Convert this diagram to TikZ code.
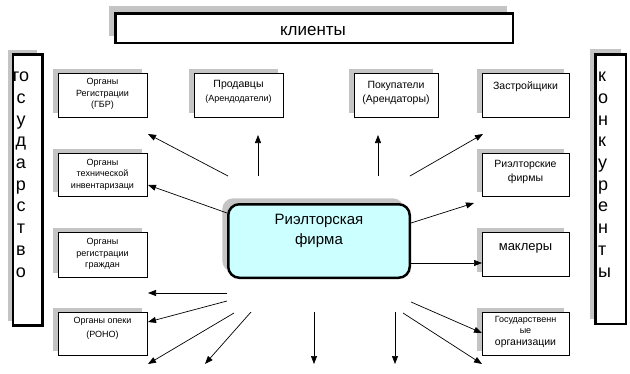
\documentclass[tikz,border=0pt]{standalone}
\usepackage{fontspec}
\setmainfont{Liberation Sans}
\usetikzlibrary{arrows.meta,shadows}
\definecolor{lcyan}{HTML}{CCFFFF}
\definecolor{shgray}{HTML}{C4C4C4}
\tikzset{
  smallbox/.style={draw, line width=0.9pt, fill=white, inner sep=0pt,
    drop shadow={shadow xshift=-5pt, shadow yshift=4pt, fill=shgray, opacity=1}},
  bigbox/.style={draw, line width=2.5pt, fill=white, inner sep=0pt,
    drop shadow={shadow xshift=-6pt, shadow yshift=7pt, fill=shgray, opacity=1}},
  sidebox/.style={draw, line width=2.5pt, fill=white, inner sep=0pt,
    drop shadow={shadow xshift=-5pt, shadow yshift=5pt, fill=shgray, opacity=1}},
  firmbox/.style={draw, line width=2.5pt, fill=lcyan, rounded corners=11pt, inner sep=0pt,
    drop shadow={shadow xshift=-6pt, shadow yshift=6pt, fill=shgray, opacity=1}},
  txt/.style={align=center, inner sep=0pt, font=\fontsize{9}{11.5}\selectfont},
  txtb/.style={align=center, inner sep=0pt, font=\fontsize{10.5}{14}\selectfont},
  vlet/.style={inner sep=0pt, font=\fontsize{18}{20}\selectfont},
  arr/.style={-{Triangle[length=8pt,width=6pt]}, line width=0.7pt}
}
\begin{document}
\begin{tikzpicture}[x=1pt,y=-1pt]
\useasboundingbox (0,0) rectangle (630,373);

% top box
\node[bigbox, minimum width=397.5pt, minimum height=29.5pt] (klienty) at (314,28) {};
\node[inner sep=0pt, font=\fontsize{17}{20}\selectfont] (klientyT) at (313,31.5) {клиенты};

% side columns
\node[sidebox, minimum width=29.5pt, minimum height=271pt] (gosud) at (27.5,190) {};
\node[sidebox, minimum width=30.5pt, minimum height=269.5pt] (konk) at (610.5,189) {};
\foreach \t [count=\i] in {го,с,у,д,а,р,с,т,в,о}
  \node[vlet, anchor=base] (gl\i) at (21,{81.7+21.7*(\i-1)}) {\t};
\foreach \t [count=\i] in {к,о,н,к,у,р,е,н,т,ы}
  \node[vlet, anchor=base west] (kl\i) at (598,{81.7+21.7*(\i-1)}) {\t};

% left boxes
\node[smallbox, minimum width=89pt, minimum height=44pt] (gbr) at (102.5,95) {};
\node[txt] (gbrT) at (102.5,94) {Органы\\Регистрации\\(ГБР)};
\node[smallbox, minimum width=89pt, minimum height=43pt] (tech) at (102.5,174.5) {};
\node[txt] (techT) at (102.5,174.5) {Органы\\технической\\инвентаризаци};
\node[smallbox, minimum width=89pt, minimum height=45pt] (grazh) at (102.5,254.5) {};
\node[txt] (grazhT) at (102.5,254) {Органы\\регистрации\\граждан};
\node[smallbox, minimum width=89pt, minimum height=43pt] (opeka) at (102.5,333.5) {};
\node[txt, font=\fontsize{9}{14}\selectfont] (opekaT) at (102.5,328.5) {Органы опеки\\(РОНО)};

% top boxes
\node[smallbox, minimum width=89pt, minimum height=44pt] (prod) at (238.5,95) {};
\node[txtb] (prodT) at (238.5,91.5) {Продавцы\\{\fontsize{9}{14}\selectfont(Арендодатели)}};
\node[smallbox, minimum width=84pt, minimum height=44pt] (pok) at (396,95) {};
\node[txtb] (pokT) at (396,92.5) {Покупатели\\(Арендаторы)};

% right boxes
\node[smallbox, minimum width=87pt, minimum height=44pt] (zastr) at (525.5,95) {};
\node[txtb] (zastrT) at (525.5,87) {Застройщики};
\node[smallbox, minimum width=87pt, minimum height=43pt] (rielt) at (525.5,174.5) {};
\node[txtb] (rieltT) at (525.5,171.5) {Риэлторские\\фирмы};
\node[smallbox, minimum width=87pt, minimum height=44pt] (makl) at (525.5,254) {};
\node[inner sep=0pt, font=\fontsize{13}{15}\selectfont] (maklT) at (525.5,248) {маклеры};
\node[smallbox, minimum width=87pt, minimum height=43pt] (gos) at (525.5,333.5) {};
\node[txt] (gosT) at (525.5,331.5) {Государственн\\ые\\{\fontsize{10.5}{11.5}\selectfont организации}};

% central firm
\node[firmbox, minimum width=181.5pt, minimum height=73.5pt] (firm) at (319,241) {};
\node[align=center, inner sep=0pt, font=\fontsize{15}{20}\selectfont] (firmT) at (319,230.5) {Риэлторская\\фирма};

% arrow end points
\coordinate (s1) at (228,176);  \coordinate (e1) at (148,134);
\coordinate (s2) at (258,176);  \coordinate (e2) at (258,135);
\coordinate (s3) at (227,213);  \coordinate (e3) at (148,185);
\coordinate (s4) at (378,176);  \coordinate (e4) at (378,135);
\coordinate (s5) at (410,176);  \coordinate (e5) at (483,134);
\coordinate (s6) at (411,223);  \coordinate (e6) at (474,203);
\coordinate (s7) at (411,263);  \coordinate (e7) at (482,263);
\coordinate (s8) at (227,293);  \coordinate (e8) at (148,293);
\coordinate (s9) at (227,301);  \coordinate (e9) at (148,322);
\coordinate (s10) at (234,313); \coordinate (e10) at (148,364);
\coordinate (s11) at (251,312); \coordinate (e11) at (205,364);
\coordinate (s12) at (314,312); \coordinate (e12) at (314,364);
\coordinate (s13) at (395,312); \coordinate (e13) at (395,364);
\coordinate (s14) at (411,302); \coordinate (e14) at (482,333);
\coordinate (s15) at (403,313); \coordinate (e15) at (482,364);

\foreach \k in {1,...,15}
  \draw[arr] (s\k) -- (e\k);
\end{tikzpicture}
\end{document}
